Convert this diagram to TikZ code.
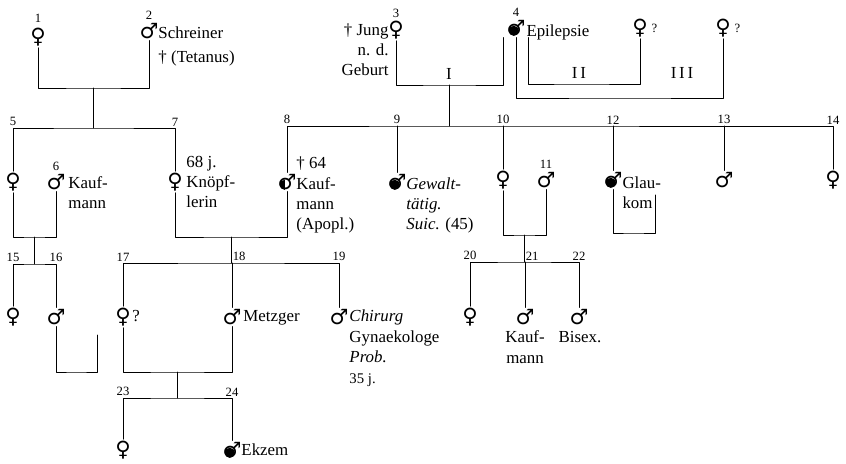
\documentclass[tikz,border=0pt]{standalone}
\usepackage{fontspec}
\setmainfont{Liberation Serif}
\newfontfamily\symfont{DejaVu Sans}
\usetikzlibrary{positioning}
\begin{document}
\begin{tikzpicture}[x=0.025cm,y=-0.025cm,font=\fontsize{12}{14.5}\selectfont,line join=round,line cap=round,line width=.7pt,
	female/.style={font=\symfont\fontsize{15}{15}\selectfont,inner sep=1pt},
	male/.style={font=\symfont\fontsize{15}{15}\selectfont,inner sep=1pt},
	num/.style={font=\fontsize{9}{10}\selectfont,inner sep=1pt},
	note/.style={align=left,anchor=base west,inner sep=0pt}]
	\useasboundingbox (0,0) rectangle (846,464);
	% Các cá thể
	\node[female] (p1) at (38,37) {♀};
	\node[male] (p2) at (149,31) {♂};
	\node[female] (p3) at (396,30) {♀};
	\node[male] (p4) at (516,28) {♂};
	\node[female] (pII) at (640,28) {♀};
	\node[female] (pIII) at (723,28) {♀};
	\node[female] (p5) at (13,182) {♀};
	\node[male] (p6) at (56,182) {♂};
	\node[female] (p7) at (175,182) {♀};
	\node[male] (p8) at (287,182) {♂};
	\node[male] (p9) at (397,182) {♂};
	\node[female] (p10) at (503,180) {♀};
	\node[male] (p11) at (546,180) {♂};
	\node[male] (p12) at (613,180) {♂};
	\node[male] (p13) at (724,180) {♂};
	\node[female] (p14) at (833,180) {♀};
	\node[female] (p15) at (13,317) {♀};
	\node[male] (p16) at (56,317) {♂};
	\node[female] (p17) at (123,317) {♀};
	\node[male] (p18) at (232,317) {♂};
	\node[male] (p19) at (339,317) {♂};
	\node[female] (p20) at (470,317) {♀};
	\node[male] (p21) at (525,317) {♂};
	\node[male] (p22) at (579,317) {♂};
	\node[female] (p23) at (123,450) {♀};
	\node[male] (p24) at (232,450) {♂};
	% Tô đen các cá thể bị bệnh
	\foreach \p in {p4,p9,p12,p24}
	\fill ([shift={(-1.6pt,-2pt)}]\p.center) circle (3.6pt);
	\fill ([shift={(-1.6pt,-2pt)}]p8.center) ++(0,3.6pt) arc (90:270:3.6pt) -- cycle;
	% Các điểm kết hôn và anh chị em
	\coordinate (m1) at (93,88);
	\coordinate (s1) at (93,128);
	\coordinate (mI) at (449,85);
	\coordinate (sI) at (449,126);
	\coordinate (mII) at (579,84);
	\coordinate (mIII) at (620,98);
	\coordinate (m5) at (34,237);
	\coordinate (s5) at (34,264);
	\coordinate (m7) at (231,237);
	\coordinate (s7) at (231,263);
	\coordinate (m10) at (524,235);
	\coordinate (s10) at (524,262);
	\coordinate (m12) at (633,233);
	\coordinate (e12) at (655,195);
	\coordinate (m16) at (76,372);
	\coordinate (e16) at (97,335);
	\coordinate (m17) at (177,372);
	\coordinate (s17) at (177,398);
	% Vẽ các đường nối
	\draw (p1.south) |- (m1) -| (p2.south);
	\draw (m1) -- (s1);
	\draw (p5.north) |- (s1) -| (p7.north);
	\draw (p3.south) |- (mI) -| ([xshift=-9pt]p4.south);
	\draw ([xshift=9pt]p4.south) |- (mII) -| (pII.south);
	\draw (p4.south) |- (mIII) -| (pIII.south);
	\draw (mI) -- (sI);
	\draw (p8.north) |- (sI) -| (p14.north);
	\draw (p9.north) -- (p9 |- sI);
	\draw (p10.north) -- (p10 |- sI);
	\draw (p12.north) -- (p12 |- sI);
	\draw (p13.north) -- (p13 |- sI);
	\draw (p5.south) |- (m5) -| (p6.south);
	\draw (m5) -- (s5);
	\draw (p15.north) |- (s5) -| (p16.north);
	\draw (p16.south) |- (m16) -| (e16);
	\draw (p7.south) |- (m7) -| (p8.south);
	\draw (m7) -- (s7);
	\draw (p17.north) |- (s7) -| (p19.north);
	\draw (p18.north) -- (p18 |- s7);
	\draw (p10.south) |- (m10) -| (p11.south);
	\draw (m10) -- (s10);
	\draw (p20.north) |- (s10) -| (p22.north);
	\draw (p21.north) -- (p21 |- s10);
	\draw (p12.south) |- (m12) -| (e12);
	\draw (p17.south) |- (m17) -| (p18.south);
	\draw (m17) -- (s17);
	\draw (p23.north) |- (s17) -| (p24.north);
	% Số thứ tự
	\node[num,above=1pt of p1] (n1) {1};
	\node[num,above=0pt of p2] (n2) {2};
	\node[num,above=0pt of p3] (n3) {3};
	\node[num,above=0pt of p4] (n4) {4};
	\node[num,above] (n5) at (p5 |- s1) {5};
	\node[num,above=0pt of p6] (n6) {6};
	\node[num,above] (n7) at (p7 |- s1) {7};
	\node[num,above] (n8) at (p8 |- sI) {8};
	\node[num,above] (n9) at (p9 |- sI) {9};
	\node[num,above] (n10) at (p10 |- sI) {10};
	\node[num,above=0pt of p11] (n11) {11};
	\node[num,above] (n12) at (p12 |- sI) {12};
	\node[num,above] (n13) at (p13 |- sI) {13};
	\node[num,above] (n14) at (p14 |- sI) {14};
	\node[num,above] (n15) at (p15 |- s5) {15};
	\node[num,above] (n16) at (p16 |- s5) {16};
	\node[num,above] (n17) at (p17 |- s7) {17};
	\node[num,above right] (n18) at (s7) {18};
	\node[num,above] (n19) at (p19 |- s7) {19};
	\node[num,above] (n20) at (p20 |- s10) {20};
	\node[num,above right] (n21) at (s10) {21};
	\node[num,above] (n22) at (p22 |- s10) {22};
	\node[num,above] (n23) at (p23 |- s17) {23};
	\node[num,above] (n24) at (p24 |- s17) {24};
	\node[above] (rI) at (mI) {I};
	\node[above] (rII) at (mII) {I\hspace{2pt}I};
	\node (rIII) at (682,73) {I\hspace{2pt}I\hspace{2pt}I};
	% Chú thích
	\node[note] (t2) at (158,63) {Schreiner\\[3pt]† (Tetanus)};
	\node[note,align=right,anchor=base east] (t3) at (389,76) {† Jung\\n. d.\\Geburt};
	\node[note] (t4) at (526,37) {Epilepsie};
	\node[num,right=0pt of pII] (qII) {?};
	\node[num,right=0pt of pIII] (qIII) {?};
	\node[note] (t6) at (68,209) {Kauf-\\mann};
	\node[note] (t7) at (186,208) {68 j.\\Knöpf-\\lerin};
	\node[note] (t8) at (296,230) {† 64\\Kauf-\\mann\\(Apopl.)};
	\node[note] (t9) at (406,230) {\textit{Gewalt-}\\\textit{tätig.}\\\textit{Suic.} (45)};
	\node[note] (t12) at (622,209) {Glau-\\kom};
	\node[note] (t17) at (132,322) {?};
	\node[note] (t18) at (243,322) {Metzger};
	\node[note] (t19) at (349,383) {\textit{Chirurg}\\Gynaekologe\\\textit{Prob.}\\{\fontsize{10.5}{14.5}\selectfont 35 j.}};
	\node[note,align=center,anchor=base] (t21) at (525,363) {Kauf-\\mann};
	\node[note,anchor=base] (t22) at (580,342) {Bisex.};
	\node[note] (t24) at (241,455) {Ekzem};
\end{tikzpicture}
\end{document}
